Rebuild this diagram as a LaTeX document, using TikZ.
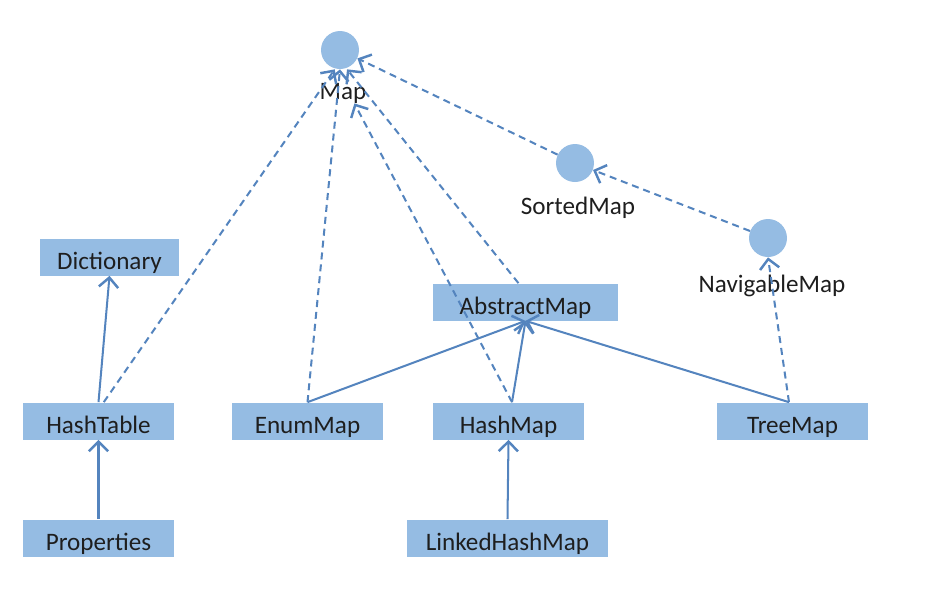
\documentclass[tikz,border=0pt]{standalone}
\usepackage{fontspec}
\setmainfont{Carlito}
\usepackage{tikz}
\usetikzlibrary{arrows.meta,positioning}
\definecolor{clsfill}{RGB}{149,188,227}
\definecolor{relline}{RGB}{84,132,190}
\definecolor{txt}{RGB}{30,30,30}

\begin{document}
\begin{tikzpicture}[x=0.02cm, y=-0.02cm,
  cls/.style={fill=clsfill, minimum width=3.02cm, minimum height=0.74cm,
              font=\fontsize{14.3}{17}\selectfont, text=txt, inner sep=0pt,
              text height=14pt, text depth=0pt},
  iface/.style={circle, fill=clsfill, minimum size=0.76cm, inner sep=0pt},
  ilabel/.style={font=\fontsize{14.3}{17}\selectfont, text=txt, inner sep=0pt},
  ext/.style={-{Straight Barb[length=5.5pt,width=11pt,line width=1.4pt]}, relline, line width=1.15pt},
  impl/.style={ext, dash pattern=on 4pt off 2.8pt},
]
\useasboundingbox (0,0) rectangle (944,603);

% Interfaces
\node[iface] (map) at (340,50) {};
\node[ilabel] (maplbl) at (343,93) {Map};
\node[iface] (sorted) at (575,163) {};
\node[ilabel] (sortedlbl) at (578,208) {SortedMap};
\node[iface] (nav) at (768,238) {};
\node[ilabel] (navlbl) at (772,286) {NavigableMap};

% Classes
\node[cls, minimum width=2.78cm] (dict) at (109.5,257) {Dictionary};
\node[cls, minimum width=3.7cm] (absmap) at (525.5,302) {AbstractMap};
\node[cls] (htable) at (98.5,421) {HashTable};
\node[cls] (enummap) at (307.5,421) {EnumMap};
\node[cls] (hashmap) at (508.5,421) {HashMap};
\node[cls] (treemap) at (792.5,421) {TreeMap};
\node[cls] (props) at (98.5,538) {Properties};
\node[cls, minimum width=4.02cm] (lhmap) at (507.5,538) {LinkedHashMap};

% extends
\draw[ext] (htable.north) -- (dict.south);
\draw[ext] (props.north) -- (htable.south);
\draw[ext] (lhmap.north) -- (hashmap.south);
\draw[ext] (enummap.north) -- (absmap.south);
\draw[ext] ([xshift=2]hashmap.north) -- (absmap.south);
\draw[ext] ([xshift=-2]treemap.north) -- (absmap.south);

% implements
\draw[impl] ([xshift=3]htable.north) -- ([xshift=-3]map.south);
\draw[impl] (enummap.north) -- (map.south);
\draw[impl] ([xshift=-4]absmap.north) -- ([xshift=4]map.south);
\draw[impl] ([xshift=2]hashmap.north) -- ([xshift=-7]maplbl.south east);
\draw[impl] (sorted) -- (map);
\draw[impl] (nav) -- (sorted);
\draw[impl] ([xshift=-2]treemap.north) -- (nav.south);
\end{tikzpicture}
\end{document}
